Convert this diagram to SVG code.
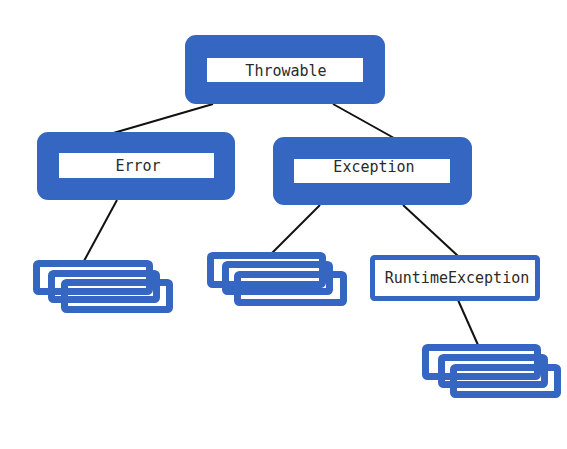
<svg xmlns="http://www.w3.org/2000/svg" width="567" height="449" viewBox="0 0 567 449">
<style>
.outer{fill:#3567c2}
.inner{fill:#ffffff}
.lbl{font-family:"DejaVu Sans Mono","Liberation Mono",monospace;font-size:15px;fill:#2a2a2a;text-anchor:middle}
.stk{fill:none;stroke:#3567c2;stroke-width:7}
.rt{fill:#ffffff;stroke:#3567c2;stroke-width:5}
.con line{stroke:#111;stroke-width:2}
</style>
<rect width="567" height="449" fill="#ffffff"/>
<g class="con" id="connectors">
<line x1="213" y1="104" x2="110" y2="134"/>
<line x1="333" y1="104" x2="394" y2="138"/>
<line x1="117" y1="200" x2="84" y2="261"/>
<line x1="320" y1="205" x2="272" y2="253"/>
<line x1="403" y1="205" x2="458" y2="256"/>
<line x1="458" y1="300" x2="478" y2="345"/>
</g>
<g id="throwable">
<rect class="outer" x="185" y="35" width="200" height="69" rx="11"/>
<rect class="inner" x="207" y="58" width="156" height="24"/>
<text class="lbl" x="286" y="76">Throwable</text>
</g>
<g id="error">
<rect class="outer" x="37" y="132" width="198" height="68" rx="11"/>
<rect class="inner" x="59" y="153" width="155" height="25"/>
<text class="lbl" x="138" y="171">Error</text>
</g>
<g id="exception">
<rect class="outer" x="273" y="137" width="199" height="68" rx="11"/>
<rect class="inner" x="294" y="159" width="156" height="24"/>
<text class="lbl" x="374" y="172">Exception</text>
</g>
<g id="error-subclasses">
<rect class="stk" x="36.5" y="263.5" width="113" height="28" rx="2"/>
<rect class="stk" x="51.5" y="273.5" width="105" height="26" rx="2"/>
<rect class="stk" x="64.5" y="282.5" width="105" height="27" rx="2"/>
</g>
<g id="exception-subclasses">
<rect class="stk" x="210.5" y="255.5" width="112" height="29" rx="2"/>
<rect class="stk" x="225.5" y="264.5" width="104" height="27" rx="2"/>
<rect class="stk" x="237.5" y="274.5" width="106" height="28" rx="2"/>
</g>
<g id="runtimeexception">
<rect class="rt" x="372.5" y="257.5" width="165" height="41" rx="2"/>
<text class="lbl" x="457" y="283">RuntimeException</text>
</g>
<g id="runtime-subclasses">
<rect class="stk" x="425.5" y="347.5" width="112" height="29" rx="2"/>
<rect class="stk" x="441.5" y="357.5" width="103" height="27" rx="2"/>
<rect class="stk" x="453.5" y="367.5" width="104" height="27" rx="2"/>
</g>
</svg>
